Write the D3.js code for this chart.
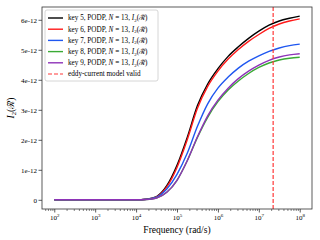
<!DOCTYPE html>
<html>
<head>
<meta charset="utf-8">
<script src="https://cdn.jsdelivr.net/npm/d3@7"></script>
<style>
  body { margin: 0; background: #fff; }
  svg { display: block; }
</style>
</head>
<body>
<svg class="chart" width="320" height="240"></svg>
<script>
// log10 of the frequency (rad/s) at which each curve was read
var logFreq = [2, 3, 4, 4.25, 4.5, 4.75, 5, 5.25, 5.5, 5.75, 6, 6.25, 6.5, 6.75, 7, 7.25, 7.5, 7.75, 8];

// values in units of 1e-12
var key5 = [0, 0, 0, 0.02, 0.11, 0.47, 1.15, 2.08, 3.14, 3.86, 4.37, 4.78, 5.1, 5.38, 5.62, 5.82, 5.96, 6.05, 6.12];
var key6 = [0, 0, 0, 0.02, 0.10, 0.43, 1.08, 2.0, 3.05, 3.78, 4.29, 4.69, 5.01, 5.28, 5.51, 5.71, 5.86, 5.96, 6.03];
var key7 = [0, 0, 0, 0.02, 0.09, 0.36, 0.85, 1.55, 2.45, 3.2, 3.72, 4.09, 4.39, 4.62, 4.8, 4.95, 5.06, 5.14, 5.19];
var key8 = [0, 0, 0, 0.01, 0.06, 0.25, 0.65, 1.3, 2.08, 2.75, 3.27, 3.66, 3.96, 4.21, 4.41, 4.56, 4.66, 4.72, 4.75];
var key9 = [0, 0, 0, 0.01, 0.06, 0.25, 0.65, 1.3, 2.1, 2.8, 3.32, 3.72, 4.04, 4.29, 4.49, 4.65, 4.76, 4.83, 4.87];

var seriesNames = ["key 5", "key 6", "key 7", "key 8", "key 9"];
var seriesValues = [key5, key6, key7, key8, key9];
var seriesColors = ["#000000", "#ff1a1a", "#1f57f0", "#3aaa35", "#8e33b8"];

var validFreq = 2.24e7;   // eddy-current model limit
var xTickExps = [2, 3, 4, 5, 6, 7, 8];
var yTicks = [0, 1, 2, 3, 4, 5, 6];
var yTickLabels = ["0", "1e-12", "2e-12", "3e-12", "4e-12", "5e-12", "6e-12"];

var plot = {left: 42, right: 312, top: 7, bottom: 209};
var serif = "Liberation Serif, DejaVu Serif, serif";

var x = d3.scaleLog()
    .domain([Math.pow(10, 1.7), Math.pow(10, 8.3)])
    .range([plot.left, plot.right]);
var yMax = 6.12;
var y = d3.scaleLinear()
    .domain([-0.05 * yMax, 1.05 * yMax])
    .range([plot.bottom, plot.top]);

var svg = d3.select(".chart");

// minor ticks on the log axis
var minorTicks = [];
for (var e = 1; e <= 8; e++) {
    for (var m = 2; m <= 9; m++) {
        var v = m * Math.pow(10, e);
        if (v > x.domain()[0] && v < x.domain()[1]) minorTicks.push(v);
    }
}

var xMinor = d3.axisBottom(x).tickValues(minorTicks).tickSize(2).tickFormat("");
svg.append("g")
    .attr("transform", "translate(0," + plot.bottom + ")")
    .call(xMinor)
    .call(function(g) {
        g.select(".domain").remove();
        g.selectAll(".tick line").attr("stroke", "#333").attr("stroke-width", 0.6);
    });

var xAxis = d3.axisBottom(x)
    .tickValues(xTickExps.map(function(d) { return Math.pow(10, d); }))
    .tickSize(3.5)
    .tickFormat("");
var gx = svg.append("g")
    .attr("transform", "translate(0," + plot.bottom + ")")
    .call(xAxis);
gx.select(".domain").remove();
gx.selectAll(".tick line").attr("stroke", "#333").attr("stroke-width", 0.8);
gx.selectAll(".tick").each(function(d, i) {
    var t = d3.select(this).append("text")
        .attr("y", 11)
        .attr("fill", "#000")
        .attr("font-size", 7)
        .attr("text-anchor", "middle");
    t.append("tspan").text("10");
    t.append("tspan").attr("dy", -3).attr("font-size", 5).text(xTickExps[i]);
});

var yAxis = d3.axisLeft(y)
    .tickValues(yTicks)
    .tickSize(3.5)
    .tickFormat(function(d, i) { return yTickLabels[i]; });
var gy = svg.append("g")
    .attr("transform", "translate(" + plot.left + ",0)")
    .call(yAxis);
gy.select(".domain").remove();
gy.selectAll(".tick line").attr("stroke", "#333").attr("stroke-width", 0.8);
gy.selectAll(".tick text")
    .attr("font-size", 7)
    .attr("fill", "#000")
    .attr("x", -5);

// curves
var line = d3.line()
    .x(function(d, i) { return x(Math.pow(10, logFreq[i])); })
    .y(function(d) { return y(d); })
    .curve(d3.curveMonotoneX);

seriesValues.forEach(function(vals, k) {
    svg.append("path")
        .datum(vals)
        .attr("fill", "none")
        .attr("stroke", seriesColors[k])
        .attr("stroke-width", 1.4)
        .attr("d", line);
});

// eddy-current limit
svg.append("line")
    .attr("x1", x(validFreq)).attr("x2", x(validFreq))
    .attr("y1", plot.top).attr("y2", plot.bottom)
    .attr("stroke", "#ff3838")
    .attr("stroke-width", 1.2)
    .attr("stroke-dasharray", "4,2");

// frame
svg.append("rect")
    .attr("x", plot.left).attr("y", plot.top)
    .attr("width", plot.right - plot.left)
    .attr("height", plot.bottom - plot.top)
    .attr("fill", "none")
    .attr("stroke", "#333")
    .attr("stroke-width", 0.8);

// axis labels
svg.append("text")
    .attr("x", (plot.left + plot.right) / 2)
    .attr("y", 233)
    .attr("text-anchor", "middle")
    .attr("font-size", 9.5)
    .text("Frequency (rad/s)");

var yl = svg.append("text")
    .attr("transform", "translate(14," + (plot.top + plot.bottom) / 2 + ") rotate(-90)")
    .attr("text-anchor", "middle")
    .attr("font-size", 9.5);
yl.append("tspan").attr("font-style", "italic").text("I");
yl.append("tspan").attr("font-size", 6.5).attr("dy", 2).text("2");
yl.append("tspan").attr("dy", -2).text("(ℛ̃)");

// legend
var legend = svg.append("g").attr("transform", "translate(45,10)");
legend.append("rect")
    .attr("width", 113).attr("height", 71)
    .attr("rx", 2)
    .attr("fill", "#fff")
    .attr("fill-opacity", 0.8)
    .attr("stroke", "#ccc")
    .attr("stroke-width", 0.8);

var rowH = 11.2;
seriesNames.forEach(function(name, k) {
    var ry = 8 + k * rowH;
    legend.append("line")
        .attr("x1", 3).attr("x2", 18)
        .attr("y1", ry).attr("y2", ry)
        .attr("stroke", seriesColors[k])
        .attr("stroke-width", 1.4);
    var t = legend.append("text")
        .attr("x", 23).attr("y", ry + 2.4)
        .attr("font-size", 7.2);
    t.append("tspan").text(name + ", PODP, ");
    t.append("tspan").attr("font-style", "italic").text("N");
    t.append("tspan").text(" = 13, ");
    t.append("tspan").attr("font-style", "italic").text("I");
    t.append("tspan").attr("font-size", 5).attr("dy", 1.5).text("2");
    t.append("tspan").attr("dy", -1.5).text("(ℛ̃)");
});
var ly = 8 + 5 * rowH;
legend.append("line")
    .attr("x1", 3).attr("x2", 18)
    .attr("y1", ly).attr("y2", ly)
    .attr("stroke", "#ff3838")
    .attr("stroke-width", 1.2)
    .attr("stroke-dasharray", "4,2");
legend.append("text")
    .attr("x", 23).attr("y", ly + 2.4)
    .attr("font-size", 7.2)
    .text("eddy-current model valid");

svg.selectAll("text").attr("font-family", serif);
</script>
</body>
</html>
